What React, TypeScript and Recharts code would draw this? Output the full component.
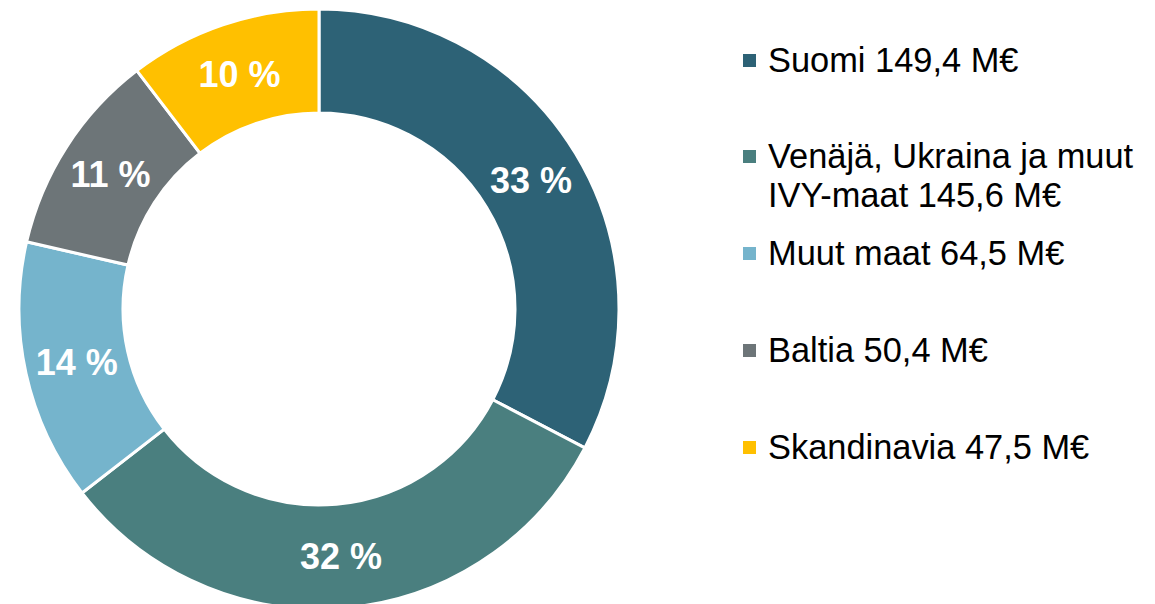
import React from "react";
import { PieChart, Pie, Cell, Legend } from "recharts";

const regions = ["Suomi", "Venäjä, Ukraina ja muut IVY-maat", "Muut maat", "Baltia", "Skandinavia"];
const sales = [149.4, 145.6, 64.5, 50.4, 47.5];
const colors = ["#2D6276", "#4A7F7F", "#75B4CC", "#6D7578", "#FFC000"];

const data = regions.map((name, i) => ({ name, value: sales[i] }));

const FONT = "'Liberation Sans', Arial, Helvetica, sans-serif";
const RADIAN = Math.PI / 180;

const renderLabel = (props: any) => {
  const { cx, cy, midAngle, innerRadius, outerRadius, percent } = props;
  const r = (innerRadius + outerRadius) / 2;
  const x = cx + r * Math.cos(-midAngle * RADIAN);
  const y = cy + r * Math.sin(-midAngle * RADIAN);
  return (
    <text
      x={x}
      y={y}
      fill="#ffffff"
      textAnchor="middle"
      dominantBaseline="central"
      fontFamily={FONT}
      fontWeight="bold"
      fontSize={36}
    >
      {`${Math.round(percent * 100)} %`}
    </text>
  );
};

const fmt = (v: number) => v.toFixed(1).replace(".", ",");

const renderLegend = () => (
  <div style={{ fontFamily: FONT }}>
    {data.map((d, i) => (
      <div key={d.name} style={{ position: "relative", height: 96.75 }}>
        <div
          style={{
            position: "absolute",
            left: 0,
            top: 13,
            width: 13,
            height: 13,
            background: colors[i],
          }}
        />
        <div
          style={{
            position: "absolute",
            left: 25,
            top: 0,
            width: 382,
            fontSize: 34.4,
            lineHeight: "39px",
            color: "#000",
          }}
        >
          {`${d.name} ${fmt(d.value)} M€`}
        </div>
      </div>
    ))}
  </div>
);

export default function App() {
  return (
    <div style={{ position: "absolute", left: 0, top: 0, width: 1155, height: 604, background: "#fff" }}>
      <PieChart width={1155} height={604} margin={{ top: 0, right: 0, bottom: 0, left: 0 }}>
        <Pie
          data={data}
          dataKey="value"
          nameKey="name"
          cx={319}
          cy={309}
          innerRadius={196}
          outerRadius={300}
          startAngle={90}
          endAngle={-270}
          stroke="#ffffff"
          strokeWidth={3}
          label={renderLabel}
          labelLine={false}
          isAnimationActive={false}
        >
          {data.map((d, i) => (
            <Cell key={d.name} fill={colors[i]} />
          ))}
        </Pie>
        <Legend
          content={renderLegend}
          layout="vertical"
          align="right"
          verticalAlign="top"
          wrapperStyle={{ position: "absolute", left: 743, top: 40.5, width: 410 }}
        />
      </PieChart>
    </div>
  );
}
